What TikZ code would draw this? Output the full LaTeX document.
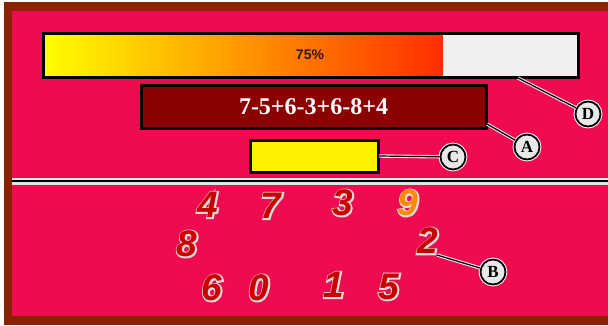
\documentclass[tikz,border=0pt]{standalone}
\usepackage{fontspec}
\setmainfont{Liberation Serif}
\newfontfamily\sansfnt{Liberation Sans}
\definecolor{pinkbg}{RGB}{240,10,80}
\definecolor{brownb}{RGB}{136,34,0}
\definecolor{boxred}{RGB}{139,0,0}
\definecolor{digitred}{RGB}{200,0,0}
\definecolor{digitorange}{RGB}{255,140,0}
\definecolor{halo}{RGB}{228,228,228}
\definecolor{barempty}{RGB}{240,240,240}
\definecolor{circfill}{RGB}{232,232,232}
\definecolor{barmid}{RGB}{255,168,0}
\definecolor{barend}{RGB}{255,45,0}
\definecolor{pcttext}{RGB}{50,20,0}
\newcommand\outl[1]{\rlap{\special{pdf:code q 1 Tr 2.8 w 0.86 0.86 0.86 RG}#1\special{pdf:code Q}}#1}
\tikzset{
  digit/.style={text=digitred, font=\sansfnt\bfseries\itshape\fontsize{37}{37}\selectfont, inner sep=0pt},
  callout/.style={circle, draw=black, fill=circfill, line width=1.8pt, minimum size=25pt, inner sep=0pt,
    font=\bfseries\fontsize{17}{17}\selectfont, preaction={draw=white, line width=3.8pt}},
  calline/.style={draw=black, line width=1.2pt, preaction={draw=halo, line width=3.4pt}},
  framebox/.style={draw=black, line width=3pt, inner sep=0pt}
}
\begin{document}
\begin{tikzpicture}[x=1pt,y=-1pt]
\useasboundingbox (0,0) rectangle (608,325);
\fill[white] (0,0) rectangle (608,325);
\fill[brownb] (4,2) rectangle (608,325);
\fill[pinkbg] (12,11) rectangle (608,316);

% progress bar
\fill[left color=yellow, middle color=barmid, right color=barend] (43,33) rectangle (443,77);
\fill[barempty] (443,33) rectangle (578,77);
\node[framebox, minimum width=535pt, minimum height=44pt] (bar) at (310.5,55) {};
\node[font=\sansfnt\bfseries\fontsize{14}{14}\selectfont, text=pcttext] (pct) at (310,55) {75\%};

% expression box
\node[framebox, fill=boxred, minimum width=345pt, minimum height=43pt, text=white,
      font=\bfseries\fontsize{24}{24}\selectfont] (expr) at (313.5,106.5) {7-5+6-3+6-8+4};

% answer box
\node[framebox, fill=yellow, minimum width=128pt, minimum height=32pt] (ans) at (314,156) {};

% separator
\coordinate (sepL) at (12,181);
\coordinate (sepR) at (608,181);
\draw[line width=7pt, halo] (sepL) -- (sepR);
\draw[line width=2.5pt, black] (sepL) -- (sepR);

% digits
\node[digit] (d4) at (208,205) {\outl{4}};
\node[digit] (d7) at (271,206) {\outl{7}};
\node[digit] (d3) at (343,203) {\outl{3}};
\node[digit, text=digitorange] (d9) at (408,203) {\outl{9}};
\node[digit] (d8) at (187,244) {\outl{8}};
\node[digit] (d2) at (428,241) {\outl{2}};
\node[digit] (d6) at (212,288) {\outl{6}};
\node[digit] (d0) at (259,288) {\outl{0}};
\node[digit] (d1) at (334,285) {\outl{1}};
\node[digit] (d5) at (389,287) {\outl{5}};

% callouts
\node[callout] (D) at (588,114) {D};
\node[callout] (A) at (527,147) {A};
\node[callout] (C) at (453,157) {C};
\node[callout] (B) at (493,272) {B};

\coordinate (dstart) at (518,78);
\coordinate (astart) at (487,124);
\coordinate (cstart) at (379,156);
\coordinate (bstart) at (437,255);

\path[calline] (dstart) -- (D);
\path[calline] (astart) -- (A);
\path[calline] (cstart) -- (C);
\path[calline] (bstart) -- (B);
\end{tikzpicture}
\end{document}
